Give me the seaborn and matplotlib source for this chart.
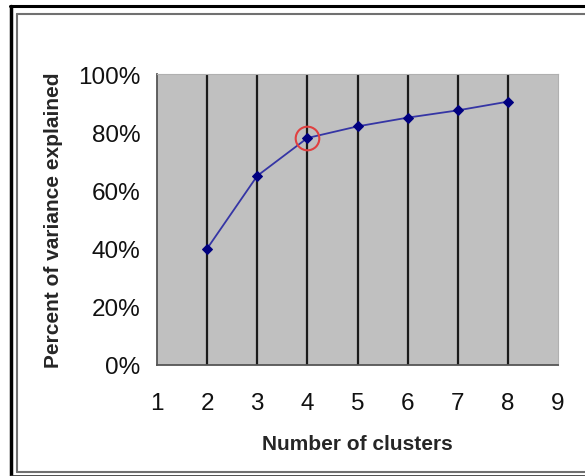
import matplotlib
matplotlib.use("Agg")
import matplotlib.pyplot as plt
import seaborn as sns
import pandas as pd
from matplotlib.lines import Line2D
from matplotlib.ticker import PercentFormatter, MultipleLocator

# Elbow data
clusters = [2, 3, 4, 5, 6, 7, 8]
variance_pct = [40, 65, 78, 82, 85, 87.5, 90.5]
elbow_k = 4
x_ticks = [1, 2, 3, 4, 5, 6, 7, 8, 9]

df = pd.DataFrame({"k": clusters, "pct": variance_pct})

sns.set_style("white", {"axes.facecolor": "#c0c0c0"})
plt.rcParams["font.family"] = ["Liberation Sans", "DejaVu Sans"]

W, H = 585, 477
fig = plt.figure(figsize=(W / 100, H / 100), dpi=100)
ax = fig.add_axes([157 / W, 1 - 366 / H, 401 / W, 291 / H])

# dark vertical separators at each cluster count
ax.vlines(clusters, 0, 100, color="#1a1a1a", lw=1.6, zorder=1)

sns.lineplot(data=df, x="k", y="pct", ax=ax, color="#3535a5", lw=1.3,
             marker="D", markersize=5.5, markeredgecolor="#000080",
             markerfacecolor="#000080", zorder=3)

# highlight the elbow
elbow_y = variance_pct[clusters.index(elbow_k)]
ax.plot([elbow_k], [elbow_y], marker="o", markersize=17, markerfacecolor="none",
        markeredgecolor="#e04040", markeredgewidth=1.5, zorder=4)

ax.set_xlim(x_ticks[0], x_ticks[-1])
ax.set_ylim(0, 100)
ax.set_xticks(x_ticks)
ax.yaxis.set_major_locator(MultipleLocator(20))
ax.yaxis.set_major_formatter(PercentFormatter(xmax=100, decimals=0))

ax.tick_params(axis="both", which="major", labelsize=17.5, length=5, width=1.2,
               color="#555555", labelcolor="#111111", direction="out")
ax.tick_params(axis="y", pad=7)
ax.tick_params(axis="x", pad=14.5)

for side in ["left", "bottom"]:
    ax.spines[side].set_color("#555555")
    ax.spines[side].set_linewidth(1.3)
for side in ["top", "right"]:
    ax.spines[side].set_color("#b0b0b0")
    ax.spines[side].set_linewidth(0.8)

ax.set_xlabel("Number of clusters", fontsize=15, fontweight="bold", labelpad=14)
ax.set_ylabel("Percent of variance explained", fontsize=15, fontweight="bold",
              labelpad=11)

# chart frame (cut off at the right edge of the screenshot)
fig_line = dict(transform=fig.transFigure)
fig.add_artist(Line2D([10 / W, 1], [1 - 7 / H, 1 - 7 / H], color="black", lw=2.2, **fig_line))
fig.add_artist(Line2D([11 / W, 11 / W], [0, 1 - 7 / H], color="black", lw=2.5, **fig_line))
fig.add_artist(Line2D([17 / W, 1], [1 - 15 / H, 1 - 15 / H], color="#707070", lw=1.5, **fig_line))
fig.add_artist(Line2D([17 / W, 17 / W], [1 - 473 / H, 1 - 15 / H], color="#707070", lw=1.5, **fig_line))
fig.add_artist(Line2D([17 / W, 1], [1 - 473 / H, 1 - 473 / H], color="#707070", lw=1.5, **fig_line))
fig.add_artist(Line2D([11 / W, 1], [1 - 476.5 / H, 1 - 476.5 / H], color="#303030", lw=1.2, **fig_line))

fig.savefig("out.png", dpi=100)
